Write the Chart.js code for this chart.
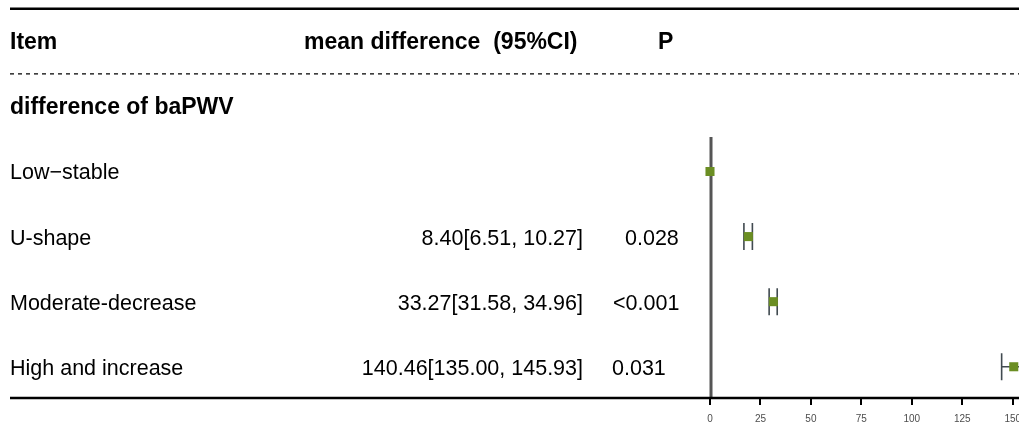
<!DOCTYPE html>
<html>
<head>
<meta charset="utf-8">
<script src="https://cdn.jsdelivr.net/npm/chart.js@4.4.1/dist/chart.umd.min.js"></script>
<style>
  html, body { margin: 0; padding: 0; background: #fff; }
  #wrap { width: 1019px; height: 422px; }
</style>
</head>
<body>
<div id="wrap"><canvas id="forestChart" width="1019" height="422"></canvas></div>
<script>
// table columns
const items = ['Low\u2212stable', 'U-shape', 'Moderate-decrease', 'High and increase'];
const ciLabels = ['', '8.40[6.51, 10.27]', '33.27[31.58, 34.96]', '140.46[135.00, 145.93]'];
const pLabels = ['', '0.028', '<0.001', '0.031'];

// plotted values
const estimates = [0, 19.0, 31.4, 150.5];
const lowerCI = [null, 16.8, 29.3, 144.5];
const upperCI = [null, 21.0, 33.3, 157.0];
const xTicks = [0, 25, 50, 75, 100, 125, 150];

const FONT = '"Liberation Sans", Arial, sans-serif';
const pX = [0, 625, 613, 612]; // left edge of each p value

const forestTable = {
  id: 'forestTable',
  beforeDatasetsDraw(chart) {
    const { ctx, chartArea, scales: { x, y } } = chart;
    ctx.save();
    // reference line at 0
    ctx.strokeStyle = '#555555';
    ctx.lineWidth = 3;
    ctx.beginPath();
    ctx.moveTo(x.getPixelForValue(0) + 1, chartArea.top);
    ctx.lineTo(x.getPixelForValue(0) + 1, chartArea.bottom);
    ctx.stroke();

    // confidence intervals
    ctx.beginPath();
    ctx.rect(chartArea.left, chartArea.top, chartArea.width, chartArea.height);
    ctx.clip();
    ctx.strokeStyle = '#414a50';
    ctx.lineWidth = 1.6;
    lowerCI.forEach((lo, i) => {
      if (lo === null) return;
      const py = y.getPixelForValue(i);
      const x1 = x.getPixelForValue(lo);
      const x2 = x.getPixelForValue(upperCI[i]);
      ctx.beginPath();
      ctx.moveTo(x1, py); ctx.lineTo(x2, py);
      ctx.moveTo(x1, py - 13.5); ctx.lineTo(x1, py + 13.5);
      ctx.moveTo(x2, py - 13.5); ctx.lineTo(x2, py + 13.5);
      ctx.stroke();
    });
    ctx.restore();
  },
  afterDraw(chart) {
    const { ctx, chartArea, scales: { y } } = chart;
    const right = chart.width;
    ctx.save();
    ctx.strokeStyle = '#000';

    // top rule
    ctx.lineWidth = 2.5;
    ctx.beginPath();
    ctx.moveTo(10, y.getPixelForValue(-2.5));
    ctx.lineTo(right, y.getPixelForValue(-2.5));
    ctx.stroke();

    // dashed rule under header
    ctx.lineWidth = 1.2;
    ctx.setLineDash([4, 4]);
    ctx.beginPath();
    ctx.moveTo(10, y.getPixelForValue(-1.5));
    ctx.lineTo(right, y.getPixelForValue(-1.5));
    ctx.stroke();
    ctx.setLineDash([]);

    // bottom rule
    ctx.lineWidth = 2.5;
    ctx.beginPath();
    ctx.moveTo(10, chartArea.bottom);
    ctx.lineTo(right, chartArea.bottom);
    ctx.stroke();

    // header
    ctx.fillStyle = '#000';
    ctx.textBaseline = 'alphabetic';
    ctx.font = 'bold 23px ' + FONT;
    const hy = y.getPixelForValue(-2) + 8;
    ctx.textAlign = 'left';
    ctx.fillText('Item', 10, hy);
    ctx.fillText('mean difference  (95%CI)', 304, hy);
    ctx.fillText('P', 658, hy);
    ctx.fillText('difference of baPWV', 10, y.getPixelForValue(-1) + 8);

    // rows
    ctx.font = '21.5px ' + FONT;
    items.forEach((name, i) => {
      const ty = y.getPixelForValue(i) + 8;
      ctx.textAlign = 'left';
      ctx.fillText(name, 10, ty);
      ctx.textAlign = 'right';
      ctx.fillText(ciLabels[i], 583, ty);
      ctx.textAlign = 'left';
      if (pLabels[i]) ctx.fillText(pLabels[i], pX[i], ty);
    });
    ctx.restore();
  }
};

const ctx = document.getElementById('forestChart').getContext('2d');
const forestChart = new Chart(ctx, {
  type: 'scatter',
  data: {
    datasets: [{
      label: 'mean difference',
      data: estimates.map((v, i) => ({ x: v, y: i })),
      pointStyle: 'rect',
      pointRadius: 6.4,
      pointBorderWidth: 0,
      backgroundColor: '#6b8e23',
      borderColor: '#6b8e23',
      clip: false
    }]
  },
  options: {
    responsive: false,
    animation: false,
    devicePixelRatio: 1,
    layout: { autoPadding: false, padding: { left: 710, top: 137, right: 0, bottom: 0 } },
    plugins: { legend: { display: false }, tooltip: { enabled: false } },
    scales: {
      x: {
        type: 'linear',
        min: 0,
        max: 153.1,
        afterBuildTicks: s => { s.ticks = xTicks.map(v => ({ value: v })); },
        afterFit: s => { s.height = 24; s.paddingLeft = 0; s.paddingRight = 0; },
        grid: { drawOnChartArea: false, tickLength: 7, lineWidth: 2, color: '#000' },
        border: { display: false },
        ticks: { font: { size: 10, family: FONT }, color: '#4d4d4d', padding: 8, maxRotation: 0 }
      },
      y: {
        type: 'linear',
        reverse: true,
        min: -0.53,
        max: 3.48,
        display: false
      }
    }
  },
  plugins: [forestTable]
});
</script>
</body>
</html>
